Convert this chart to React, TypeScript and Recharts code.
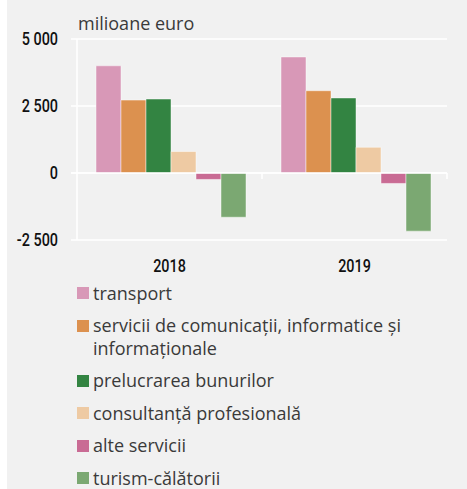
import React from 'react';
import { BarChart, Bar, XAxis, YAxis, CartesianGrid, ReferenceLine, Legend } from 'recharts';

const categories = ['2018', '2019'];
const transport = [4000, 4330];
const comunicatii = [2720, 3070];
const prelucrare = [2760, 2800];
const consultanta = [800, 960];
const alte = [-240, -390];
const turism = [-1650, -2170];

const yTicks = [-2500, 0, 2500, 5000];
const yTickLabels = ['-2 500', '0', '2 500', '5 000'];

const seriesNames = [
  'transport',
  'servicii de comunicații, informatice și informaționale',
  'prelucrarea bunurilor',
  'consultanță profesională',
  'alte servicii',
  'turism-călătorii',
];
const seriesValues = [transport, comunicatii, prelucrare, consultanta, alte, turism];
const seriesColors = ['#d898b7', '#dc914f', '#338442', '#eecaa3', '#c96b94', '#7ba872'];

const data = categories.map((c, i) => {
  const row: Record<string, string | number> = { year: c };
  seriesValues.forEach((vals, k) => {
    row['s' + k] = vals[i];
  });
  return row;
});

const tickFont = 'Roboto, "Noto Sans", sans-serif';
const textFont = '"Open Sans", "Noto Sans", sans-serif';

const YTick = (props: any) => {
  const { x, y, payload } = props;
  const label = yTickLabels[yTicks.indexOf(payload.value)];
  return (
    <g transform={`translate(${x},${y}) scale(0.8,1)`}>
      <text x={0} y={0} dy="0.36em" textAnchor="end" fill="#111111" fontSize={18} fontWeight={500} fontFamily={tickFont}>
        {label}
      </text>
    </g>
  );
};

const XTick = (props: any) => {
  const { x, y, payload } = props;
  return (
    <g transform={`translate(${x},${y}) scale(0.8,1)`}>
      <text x={0} y={0} dy="0.71em" textAnchor="middle" fill="#111111" fontSize={18} fontWeight={500} fontFamily={tickFont}>
        {payload.value}
      </text>
    </g>
  );
};

const ZeroLine = (props: any) => {
  const { x1, x2, y1 } = props;
  const n = categories.length;
  const step = (x2 - x1) / n;
  const ticks = [];
  for (let k = 1; k <= n; k++) {
    const x = x1 + step * k;
    ticks.push(<line key={k} x1={x} x2={x} y1={y1} y2={y1 + 6} stroke="#ffffff" strokeWidth={1.5} />);
  }
  return (
    <g>
      <line x1={x1 - 6} x2={x2} y1={y1} y2={y1} stroke="#ffffff" strokeWidth={1.5} />
      {ticks}
    </g>
  );
};

const LegendContent = () => (
  <div style={{ fontFamily: textFont, fontSize: 18, color: '#3a3a3a' }}>
    {seriesNames.map((name, k) => (
      <div key={k} style={{ display: 'flex', alignItems: 'flex-start', marginBottom: 10, lineHeight: '22.5px' }}>
        <div style={{ width: 12, height: 12, background: seriesColors[k], marginTop: 5.5, marginRight: 4, flex: 'none' }} />
        <div style={{ width: 350 }}>{name}</div>
      </div>
    ))}
  </div>
);

export default function App() {
  return (
    <div style={{ position: 'absolute', left: 7, top: 0, width: 460, height: 489, background: '#f1f1f1', overflow: 'hidden' }}>
      <div style={{ position: 'absolute', left: 71, top: 12, fontFamily: textFont, fontSize: 18, color: '#3a3a3a', lineHeight: '22px' }}>
        milioane euro
      </div>
      <BarChart
        width={460}
        height={489}
        data={data}
        margin={{ top: 39, right: 20, bottom: 209, left: 0 }}
        barCategoryGap={19}
        barGap={0}
      >
        <CartesianGrid vertical={false} stroke="#ffffff" strokeWidth={1.5} />
        <YAxis
          width={70}
          domain={[-2500, 5000]}
          ticks={yTicks}
          interval={0}
          axisLine={{ stroke: '#ffffff', strokeWidth: 1.5 }}
          tickLine={{ stroke: '#ffffff', strokeWidth: 1.5 }}
          tickSize={6}
          tickMargin={13}
          tick={<YTick />}
        />
        <XAxis
          dataKey="year"
          axisLine={false}
          tickLine={false}
          tickSize={0}
          tickMargin={19}
          height={40}
          tick={<XTick />}
        />
        <ReferenceLine y={0} shape={(p: any) => <ZeroLine {...p} />} />
        {seriesNames.map((name, k) => (
          <Bar
            key={k}
            dataKey={'s' + k}
            name={name}
            fill={seriesColors[k]}
            stroke="rgba(255,255,255,0.45)"
            strokeWidth={1}
            isAnimationActive={false}
          />
        ))}
        <Legend
          layout="horizontal"
          verticalAlign="middle"
          align="center"
          content={() => <LegendContent />}
          wrapperStyle={{ position: 'absolute', left: 70, top: 281.5, width: 385, height: 207 }}
        />
      </BarChart>
    </div>
  );
}
